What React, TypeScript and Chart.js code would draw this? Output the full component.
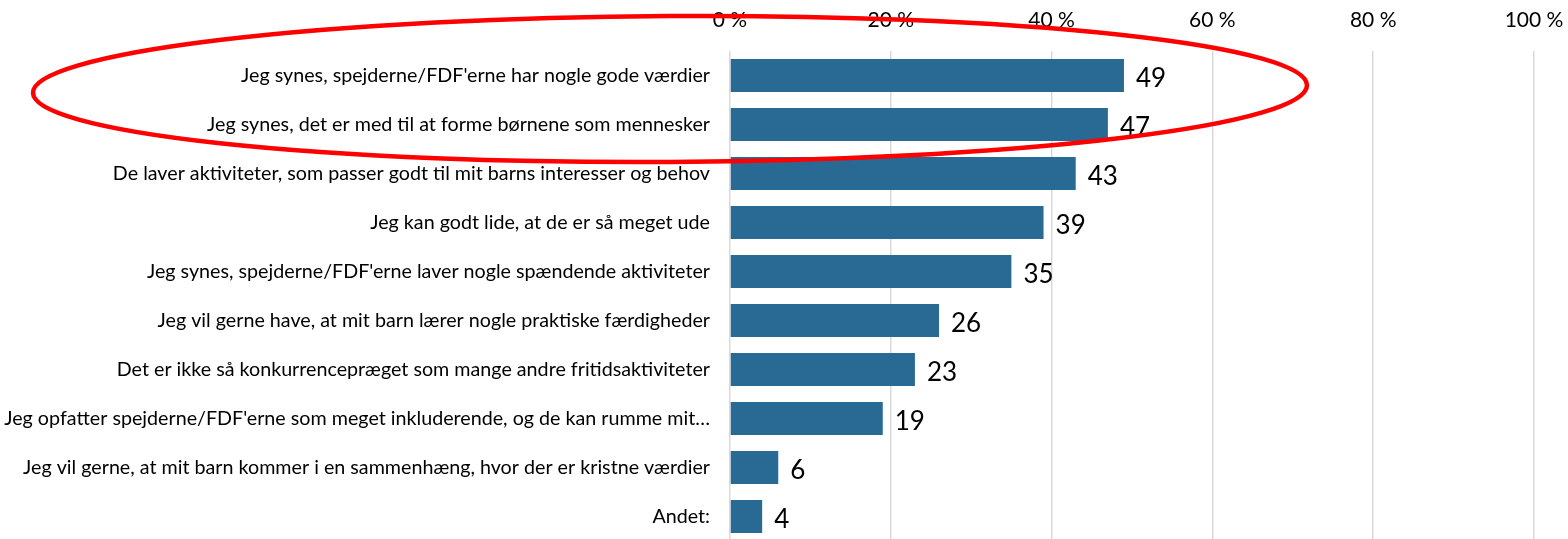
import React, { useEffect, useRef } from "react";
import { Chart, registerables } from "chart.js";

Chart.register(...registerables);

const categories: string[] = [
  "Jeg synes, spejderne/FDF'erne har nogle gode værdier",
  "Jeg synes, det er med til at forme børnene som mennesker",
  "De laver aktiviteter, som passer godt til mit barns interesser og behov",
  "Jeg kan godt lide, at de er så meget ude",
  "Jeg synes, spejderne/FDF'erne laver nogle spændende aktiviteter",
  "Jeg vil gerne have, at mit barn lærer nogle praktiske færdigheder",
  "Det er ikke så konkurrencepræget som mange andre fritidsaktiviteter",
  "Jeg opfatter spejderne/FDF'erne som meget inkluderende, og de kan rumme mit…",
  "Jeg vil gerne, at mit barn kommer i en sammenhæng, hvor der er kristne værdier",
  "Andet:",
];
const values: number[] = [49, 47, 43, 39, 35, 26, 23, 19, 6, 4];
const tickValues: number[] = [0, 20, 40, 60, 80, 100];

const FONT = "Lato";

const valueLabels = {
  id: "valueLabels",
  afterDatasetsDraw(chart: any) {
    const ctx = chart.ctx;
    const meta = chart.getDatasetMeta(0);
    ctx.save();
    ctx.font = `26px ${FONT}`;
    ctx.fillStyle = "#000";
    ctx.textAlign = "left";
    ctx.textBaseline = "middle";
    meta.data.forEach((bar: any, i: number) => {
      ctx.fillText(String(values[i]), bar.x + 12, bar.y + 3);
    });
    ctx.restore();
  },
};

const ellipse = {
  id: "ellipse",
  afterDraw(chart: any) {
    const ctx = chart.ctx;
    const y = chart.scales.y;
    const cy = (y.getPixelForValue(0) + y.getPixelForValue(1)) / 2 - 11;
    ctx.save();
    ctx.strokeStyle = "#FF0000";
    ctx.lineWidth = 4.5;
    ctx.beginPath();
    ctx.ellipse(670, cy, 637, 73, -0.006, 0, Math.PI * 2);
    ctx.stroke();
    ctx.restore();
  },
};

export default function App() {
  const ref = useRef<HTMLCanvasElement | null>(null);
  useEffect(() => {
    if (!ref.current) return;
    const chart = new Chart(ref.current, {
      type: "bar",
      data: {
        labels: categories,
        datasets: [
          {
            data: values,
            backgroundColor: "#286A93",
            borderWidth: 0,
            categoryPercentage: 1,
            barPercentage: 0.673,
          },
        ],
      },
      options: {
        indexAxis: "y",
        animation: false,
        responsive: false,
        maintainAspectRatio: false,
        layout: { padding: { top: 8, right: 34, bottom: 0, left: 0 } },
        plugins: { legend: { display: false }, tooltip: { enabled: false } },
        scales: {
          x: {
            position: "top",
            min: 0,
            max: 100,
            afterBuildTicks: (scale: any) => {
              scale.ticks = tickValues.map((v) => ({ value: v }));
            },
            afterFit: (scale: any) => {
              scale.paddingLeft = 0;
              scale.paddingRight = 0;
              scale.height = 43;
            },
            ticks: {
              callback: (v: any) => `${v} %`,
              color: "#000",
              font: { family: FONT, size: 21 },
              padding: 18,
              maxRotation: 0,
            },
            grid: { color: "#D9D9D9", lineWidth: 1.5, drawTicks: false },
            border: { display: false },
          },
          y: {
            afterFit: (scale: any) => {
              scale.width = 730;
              scale.paddingTop = 0;
              scale.paddingBottom = 0;
            },
            ticks: {
              color: "#000",
              font: { family: FONT, size: 19.7 },
              padding: 12,
              autoSkip: false,
            },
            grid: { display: false },
            border: { display: false },
          },
        },
      },
      plugins: [valueLabels, ellipse],
    });
    return () => chart.destroy();
  }, []);
  return (
    <div
      style={{
        position: "fixed",
        left: 0,
        top: 0,
        width: 1568,
        height: 539,
        overflow: "hidden",
        background: "#fff",
      }}
    >
      <canvas ref={ref} width={1568} height={541} style={{ width: 1568, height: 541, display: "block" }} />
    </div>
  );
}
